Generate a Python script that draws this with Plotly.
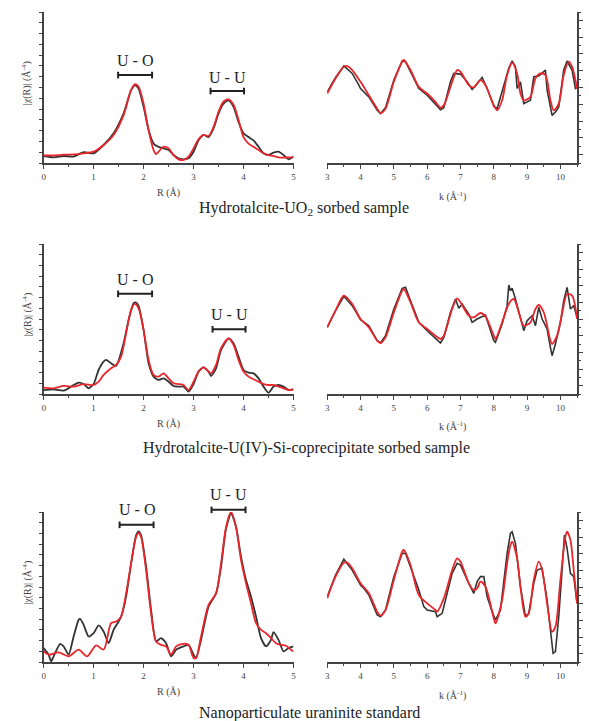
import plotly.graph_objects as go

# ---------------- DATA ----------------
# Panel 1 : Hydrotalcite-UO2 sorbed sample
r1_data_x = [0, 0.2, 0.4, 0.6, 0.8, 1.0, 1.2, 1.4, 1.6, 1.75, 1.83, 1.9, 2.0, 2.1, 2.2, 2.3, 2.4, 2.5, 2.6, 2.7, 2.8, 2.9, 3.0, 3.1, 3.2, 3.3, 3.4, 3.5, 3.6, 3.7, 3.8, 3.9, 4.0, 4.1, 4.2, 4.3, 4.4, 4.5, 4.6, 4.7, 4.8, 4.9, 5.0]
r1_data_y = [0.65, 0.52, 0.65, 0.6, 1.0, 0.9, 1.67, 2.75, 4.6, 6.76, 7.2, 6.9, 5.2, 3.05, 1.8, 1.5, 1.36, 1.2, 0.74, 0.43, 0.34, 0.43, 1.05, 2.1, 2.6, 2.4, 3.2, 4.6, 5.5, 5.8, 5.2, 3.8, 2.75, 2.4, 2.1, 1.5, 0.9, 0.74, 0.96, 1.05, 0.74, 0.34, 0.6]
r1_fit_x = [0, 0.2, 0.4, 0.6, 0.8, 1.0, 1.2, 1.4, 1.6, 1.75, 1.83, 1.9, 2.0, 2.1, 2.2, 2.25, 2.3, 2.4, 2.5, 2.6, 2.7, 2.8, 2.9, 3.0, 3.1, 3.2, 3.3, 3.4, 3.5, 3.6, 3.7, 3.8, 3.9, 4.0, 4.1, 4.2, 4.3, 4.4, 4.5, 4.6, 4.7, 4.8, 4.9, 5.0]
r1_fit_y = [0.7, 0.7, 0.77, 0.8, 0.9, 1.05, 1.67, 2.6, 4.44, 6.76, 7.3, 7.07, 5.5, 3.05, 1.2, 0.83, 1.05, 1.5, 1.36, 0.74, 0.34, 0.28, 0.6, 1.36, 2.2, 2.6, 2.5, 3.36, 4.75, 5.7, 5.9, 5.4, 4.0, 2.4, 1.8, 1.5, 1.2, 0.9, 0.74, 0.65, 0.52, 0.5, 0.52, 0.52]
k1_data_x = [3.0, 3.25, 3.5, 3.75, 3.95, 4.0, 4.25, 4.5, 4.6, 4.75, 5.0, 5.25, 5.35, 5.5, 5.75, 6.0, 6.25, 6.4, 6.5, 6.7, 6.8, 7.0, 7.2, 7.35, 7.5, 7.65, 7.8, 8.0, 8.1, 8.3, 8.45, 8.55, 8.65, 8.7, 8.8, 8.9, 9.1, 9.2, 9.35, 9.55, 9.6, 9.75, 9.85, 9.95, 10.1, 10.2, 10.35, 10.45, 10.5]
k1_data_y = [-0.26, 0.6, 1.28, 0.84, 0.14, -0.06, -0.56, -1.36, -1.56, -1.2, 0.44, 1.58, 1.54, 0.94, -0.06, -0.46, -0.96, -1.32, -1.2, 0.34, 0.84, 0.8, 0.34, -0.12, 0.24, 0.6, -0.06, -1.12, -1.26, 0.04, 1.14, 1.58, 1.24, -0.06, 0.34, -0.96, -0.76, 0.64, 0.68, 1.04, -0.16, -1.66, -1.46, -1.16, 1.04, 1.58, 1.04, -0.06, 0.0]
k1_fit_x = [3.0, 3.25, 3.5, 3.6, 3.75, 4.0, 4.25, 4.5, 4.6, 4.75, 5.0, 5.25, 5.3, 5.5, 5.75, 6.0, 6.25, 6.4, 6.5, 6.75, 6.9, 7.0, 7.25, 7.4, 7.6, 7.75, 8.0, 8.1, 8.25, 8.4, 8.55, 8.7, 8.8, 8.9, 9.1, 9.25, 9.4, 9.55, 9.7, 9.8, 9.95, 10.1, 10.25, 10.35, 10.5]
k1_fit_y = [-0.36, 0.54, 1.24, 1.28, 1.04, 0.34, -0.46, -1.26, -1.52, -1.26, 0.34, 1.54, 1.64, 1.04, 0.04, -0.36, -0.86, -1.2, -1.06, 0.34, 1.04, 0.94, 0.14, 0.0, 0.44, 0.14, -1.06, -1.36, -0.76, 0.74, 1.48, 0.84, -0.36, -0.76, -0.56, 0.54, 0.84, 0.74, -0.76, -1.36, -0.96, 0.74, 1.54, 1.24, -0.06]

# Panel 2 : Hydrotalcite-U(IV)-Si-coprecipitate sorbed sample
r2_data_x = [0, 0.2, 0.4, 0.6, 0.7, 0.8, 0.9, 1.0, 1.1, 1.2, 1.25, 1.35, 1.45, 1.6, 1.7, 1.8, 1.85, 1.9, 2.0, 2.1, 2.2, 2.3, 2.4, 2.5, 2.6, 2.7, 2.8, 2.9, 3.0, 3.1, 3.2, 3.3, 3.35, 3.45, 3.55, 3.7, 3.8, 3.9, 4.0, 4.1, 4.2, 4.3, 4.4, 4.5, 4.6, 4.7, 4.8, 4.9, 5.0]
r2_data_y = [0.37, 0.44, 0.31, 0.84, 1.06, 0.93, 0.53, 0.93, 2.24, 3.02, 3.18, 2.87, 2.62, 4.73, 6.92, 8.47, 8.54, 8.22, 5.98, 2.87, 1.62, 1.31, 1.46, 1.15, 0.75, 0.69, 0.69, 0.22, 0.93, 2.09, 2.49, 2.09, 1.68, 2.4, 4.11, 5.2, 4.73, 3.49, 2.24, 1.99, 1.93, 1.46, 0.69, 0.12, 0.69, 0.84, 0.69, 0.37, 0.44]
r2_fit_x = [0, 0.2, 0.4, 0.6, 0.8, 1.0, 1.1, 1.2, 1.35, 1.45, 1.55, 1.65, 1.75, 1.82, 1.9, 2.0, 2.1, 2.2, 2.3, 2.4, 2.5, 2.6, 2.7, 2.8, 2.9, 3.0, 3.1, 3.2, 3.3, 3.35, 3.45, 3.55, 3.7, 3.8, 3.9, 4.0, 4.1, 4.2, 4.3, 4.4, 4.5, 4.6, 4.7, 4.8, 4.9, 5.0]
r2_fit_y = [0.59, 0.53, 0.75, 0.69, 0.93, 0.84, 1.15, 1.78, 2.4, 2.71, 3.49, 5.67, 7.85, 8.41, 8.0, 5.98, 3.18, 1.78, 1.62, 1.93, 1.46, 1.0, 0.93, 0.84, 0.37, 1.15, 2.09, 2.49, 2.09, 1.93, 2.71, 4.27, 5.2, 4.58, 3.18, 2.09, 1.62, 1.37, 1.15, 0.93, 0.84, 0.84, 0.69, 0.53, 0.37, 0.44]
k2_data_x = [3.0, 3.25, 3.5, 3.75, 4.0, 4.25, 4.5, 4.6, 4.75, 5.0, 5.25, 5.35, 5.5, 5.75, 6.0, 6.25, 6.4, 6.5, 6.7, 6.85, 6.95, 7.05, 7.25, 7.35, 7.5, 7.75, 8.0, 8.05, 8.25, 8.4, 8.45, 8.5, 8.55, 8.65, 8.75, 8.9, 9.0, 9.15, 9.25, 9.35, 9.45, 9.6, 9.7, 9.75, 9.85, 10.0, 10.1, 10.2, 10.3, 10.4, 10.5]
k2_data_y = [-0.5, 0.5, 1.36, 0.8, -0.04, -0.4, -1.3, -1.44, -1.0, 0.6, 1.84, 1.9, 1.1, -0.2, -0.7, -1.2, -1.44, -1.1, 0.4, 1.2, 0.64, 0.9, 0.3, -0.2, 0.0, 0.24, -1.3, -1.4, -0.3, 0.8, 2.04, 1.7, 1.84, 1.2, 0.5, -0.7, -0.1, 0.2, -0.4, 0.7, 0.0, -0.6, -1.7, -2.2, -1.5, -0.2, 1.1, 1.9, 0.6, 0.8, 0.1]
k2_fit_x = [3.0, 3.25, 3.5, 3.75, 4.0, 4.25, 4.5, 4.6, 4.75, 5.0, 5.25, 5.3, 5.5, 5.75, 6.0, 6.25, 6.4, 6.5, 6.75, 6.9, 7.0, 7.25, 7.4, 7.6, 7.75, 8.0, 8.05, 8.25, 8.45, 8.6, 8.75, 8.9, 9.1, 9.25, 9.35, 9.5, 9.7, 9.75, 9.9, 10.05, 10.2, 10.35, 10.5]
k2_fit_y = [-0.5, 0.5, 1.4, 0.9, 0.0, -0.5, -1.3, -1.44, -1.1, 0.4, 1.7, 1.8, 1.0, -0.2, -0.6, -1.0, -1.2, -1.0, 0.6, 1.24, 1.0, 0.2, 0.1, 0.36, 0.16, -1.0, -1.2, -0.2, 0.9, 1.2, 0.4, -0.4, -0.2, 0.6, 0.84, 0.4, -1.3, -1.5, -1.0, 0.3, 1.5, 1.4, 0.0]

# Panel 3 : Nanoparticulate uraninite standard
r3_data_x = [0, 0.1, 0.15, 0.2, 0.33, 0.4, 0.5, 0.6, 0.7, 0.73, 0.8, 0.9, 1.0, 1.1, 1.2, 1.3, 1.4, 1.5, 1.55, 1.65, 1.75, 1.85, 1.9, 1.95, 2.05, 2.15, 2.25, 2.35, 2.45, 2.55, 2.65, 2.8, 2.9, 3.0, 3.05, 3.15, 3.3, 3.45, 3.55, 3.65, 3.75, 3.85, 3.95, 4.05, 4.15, 4.25, 4.35, 4.45, 4.55, 4.6, 4.7, 4.8, 4.9, 5.0]
r3_data_y = [1.3, 0.68, 0.06, 0.53, 1.7, 1.46, 0.68, 2.38, 3.93, 4.02, 3.47, 2.38, 2.69, 3.41, 2.85, 1.76, 3.0, 3.78, 4.24, 6.1, 9.2, 11.83, 12.2, 11.83, 8.9, 4.86, 1.92, 2.23, 1.76, 0.53, 1.15, 1.46, 1.6, 0.68, 0.37, 2.07, 5.17, 6.4, 8.9, 12.45, 13.9, 12.6, 9.81, 7.65, 6.1, 4.24, 2.23, 1.46, 2.07, 2.79, 2.07, 0.99, 1.3, 1.46]
r3_fit_x = [0, 0.1, 0.3, 0.5, 0.7, 0.87, 1.05, 1.2, 1.35, 1.45, 1.55, 1.65, 1.75, 1.85, 1.9, 1.95, 2.05, 2.15, 2.25, 2.35, 2.45, 2.55, 2.65, 2.8, 2.9, 3.0, 3.05, 3.15, 3.3, 3.45, 3.55, 3.65, 3.75, 3.85, 3.95, 4.05, 4.15, 4.25, 4.35, 4.45, 4.55, 4.65, 4.75, 4.85, 4.95, 5.0]
r3_fit_y = [0.99, 0.68, 0.9, 0.53, 1.15, 0.53, 1.55, 1.15, 3.62, 3.78, 4.24, 6.4, 9.2, 11.67, 12.04, 11.67, 8.58, 4.55, 1.92, 1.6, 1.46, 0.68, 1.46, 1.7, 1.6, 0.37, 0.37, 2.38, 5.33, 6.4, 9.2, 12.6, 14.0, 12.6, 9.5, 7.34, 5.48, 3.62, 3.0, 2.69, 2.23, 1.76, 1.6, 1.52, 1.15, 0.99]
k3_data_x = [3.0, 3.25, 3.5, 3.75, 4.0, 4.1, 4.25, 4.5, 4.6, 4.75, 5.0, 5.25, 5.35, 5.5, 5.75, 5.9, 6.0, 6.25, 6.3, 6.45, 6.75, 6.9, 7.0, 7.25, 7.4, 7.5, 7.6, 7.7, 7.8, 7.95, 8.05, 8.2, 8.4, 8.5, 8.55, 8.65, 8.8, 8.95, 9.05, 9.2, 9.3, 9.45, 9.6, 9.7, 9.78, 9.85, 9.95, 10.05, 10.12, 10.2, 10.3, 10.4, 10.5]
k3_data_y = [-0.58, 0.72, 1.66, 1.02, 0.12, -0.08, -0.48, -1.68, -1.78, -1.38, 0.62, 2.02, 2.02, 1.22, -0.18, -1.18, -1.38, -1.48, -1.78, -1.58, 0.82, 1.42, 1.32, 0.22, -0.38, 0.32, 0.62, 0.62, -0.58, -1.48, -1.98, -1.38, 2.02, 3.22, 3.32, 2.62, 0.02, -1.78, -1.58, 0.22, 1.02, 1.12, -0.78, -2.58, -3.98, -3.88, -1.78, 1.02, 3.12, 2.32, 0.82, 0.62, -0.98]
k3_fit_x = [3.0, 3.25, 3.5, 3.6, 3.75, 4.0, 4.25, 4.5, 4.6, 4.75, 5.0, 5.25, 5.3, 5.5, 5.75, 6.0, 6.25, 6.3, 6.5, 6.75, 6.9, 7.0, 7.25, 7.4, 7.5, 7.6, 7.75, 8.0, 8.05, 8.25, 8.4, 8.5, 8.55, 8.7, 8.8, 8.95, 9.05, 9.2, 9.35, 9.45, 9.6, 9.75, 9.85, 10.0, 10.15, 10.2, 10.3, 10.4, 10.5]
k3_fit_y = [-0.68, 0.62, 1.46, 1.46, 1.12, 0.22, -0.38, -1.48, -1.72, -1.38, 0.42, 2.12, 2.22, 1.32, -0.48, -0.98, -1.38, -1.48, -0.68, 1.02, 1.72, 1.52, 0.22, -0.18, -0.08, 0.32, 0.02, -1.88, -2.18, -0.78, 1.42, 2.52, 2.72, 1.72, 0.02, -1.78, -1.58, 0.42, 1.52, 1.02, -0.98, -2.68, -2.38, 0.42, 3.02, 3.32, 2.82, 1.02, -0.98]

subtitles = ["Hydrotalcite-UO<sub>2</sub> sorbed sample",
             "Hydrotalcite-U(IV)-Si-coprecipitate sorbed sample",
             "Nanoparticulate uraninite standard"]
# bracket annotations: (label, R_start, R_end, bracket level, label level)
brackets = [
    [("U - O", 1.49, 2.17, 8.15, 9.5), ("U - U", 3.34, 4.01, 6.67, 7.9)],
    [("U - O", 1.49, 2.17, 9.35, 10.7), ("U - U", 3.38, 4.04, 6.04, 7.38)],
    [("U - O", 1.52, 2.20, 12.8, 14.2), ("U - U", 3.36, 4.04, 14.2, 15.6)],
]

R_RANGE = [0, 5]
K_RANGE = [3, 10.5]
R_YRANGE = [0, 14]
K_YRANGE = [-4.5, 4.5]

# ---------------- LAYOUT GEOMETRY ----------------
W, H = 589, 721
left_dom = [42 / W, 294 / W]
right_dom = [328 / W, 580 / W]
rows_px = [(12, 163), (244, 394), (512, 662)]  # top, bottom in pixels
sub_y_px = [208, 448, 713]
sub_x_px = [305, 307, 310]

BLACK = "#333333"
RED = "#e8262b"
AXC = "#444444"
FONT = "Liberation Serif"


def axname(n):
    return "" if n == 1 else str(n)


fig = go.Figure()

panels = [
    (r1_data_x, r1_data_y, r1_fit_x, r1_fit_y, k1_data_x, k1_data_y, k1_fit_x, k1_fit_y),
    (r2_data_x, r2_data_y, r2_fit_x, r2_fit_y, k2_data_x, k2_data_y, k2_fit_x, k2_fit_y),
    (r3_data_x, r3_data_y, r3_fit_x, r3_fit_y, k3_data_x, k3_data_y, k3_fit_x, k3_fit_y),
]

layout = dict(width=W, height=H, margin=dict(l=0, r=0, t=0, b=0),
              paper_bgcolor="white", plot_bgcolor="white", showlegend=False,
              font=dict(family=FONT, color="#222"))
annotations = []
shapes = []

for i, (rdx, rdy, rfx, rfy, kdx, kdy, kfx, kfy) in enumerate(panels):
    top, bot = rows_px[i]
    ydom = [1 - bot / H, 1 - top / H]
    nl = axname(2 * i + 1)
    nr = axname(2 * i + 2)
    xl, yl = "x" + nl, "y" + nl
    xr, yr = "x" + nr, "y" + nr

    fig.add_trace(go.Scatter(x=rdx, y=rdy, xaxis=xl, yaxis=yl, mode="lines",
                             line=dict(color=BLACK, width=1.8, shape="spline", smoothing=0.6)))
    fig.add_trace(go.Scatter(x=rfx, y=rfy, xaxis=xl, yaxis=yl, mode="lines",
                             line=dict(color=RED, width=1.8, shape="spline", smoothing=0.8)))
    fig.add_trace(go.Scatter(x=kdx, y=kdy, xaxis=xr, yaxis=yr, mode="lines",
                             line=dict(color=BLACK, width=1.6)))
    fig.add_trace(go.Scatter(x=kfx, y=kfy, xaxis=xr, yaxis=yr, mode="lines",
                             line=dict(color=RED, width=1.8, shape="spline", smoothing=0.8)))

    common_x = dict(showgrid=False, zeroline=False, showline=True, linecolor=AXC, linewidth=1.5,
                    ticks="outside", ticklen=4, tickwidth=1, tickcolor=AXC,
                    tickfont=dict(family=FONT, size=9, color="#444"),
                    minor=dict(ticks="outside", ticklen=2, tickcolor=AXC, dtick=0.5))
    layout["xaxis" + nl] = dict(common_x, domain=left_dom, range=R_RANGE, dtick=1, tick0=0,
                                anchor=yl, fixedrange=True)
    layout["xaxis" + nr] = dict(common_x, domain=right_dom, range=K_RANGE, dtick=1, tick0=0,
                                anchor=yr, fixedrange=True)
    layout["yaxis" + nl] = dict(domain=ydom, range=R_YRANGE, showgrid=False, zeroline=False,
                                showline=True, linecolor=AXC, linewidth=1.5, ticks="outside",
                                ticklen=3, tickcolor=AXC, dtick=1, showticklabels=False,
                                anchor=xl, fixedrange=True)
    layout["yaxis" + nr] = dict(domain=ydom, range=K_YRANGE, showgrid=False, zeroline=False,
                                showline=True, linecolor=AXC, linewidth=1.5, ticks="outside",
                                ticklen=4, tickcolor=AXC, dtick=1, tick0=0, showticklabels=False,
                                side="right", anchor=xr, fixedrange=True,
                                minor=dict(ticks="outside", ticklen=2, tickcolor=AXC, dtick=0.5))

    ctr = dict(xanchor="center", yanchor="middle", showarrow=False)
    # axis titles
    annotations.append(dict(ctr, x=(left_dom[0] + left_dom[1]) / 2, y=1 - (bot + 30) / H,
                            xref="paper", yref="paper", text="R (Å)",
                            font=dict(family=FONT, size=10, color="#444")))
    annotations.append(dict(ctr, x=(right_dom[0] + right_dom[1]) / 2, y=1 - (bot + 33) / H,
                            xref="paper", yref="paper", text="k (Å<sup>-1</sup>)",
                            font=dict(family=FONT, size=10, color="#444")))
    annotations.append(dict(ctr, x=25 / W, y=1 - ((top + bot) / 2 - 4) / H, xref="paper", yref="paper",
                            text="|χ(R)| (Å<sup>-4</sup>)", textangle=-90,
                            font=dict(family=FONT, size=10, color="#444")))
    # subtitle
    annotations.append(dict(ctr, x=sub_x_px[i] / W, y=1 - sub_y_px[i] / H, xref="paper", yref="paper",
                            text=subtitles[i],
                            font=dict(family=FONT, size=16, color="#222")))
    # brackets
    for (lab, x0, x1, yb, ylab) in brackets[i]:
        fx0 = (x0 - R_RANGE[0]) / (R_RANGE[1] - R_RANGE[0])
        fx1 = (x1 - R_RANGE[0]) / (R_RANGE[1] - R_RANGE[0])
        fy = (yb - R_YRANGE[0]) / (R_YRANGE[1] - R_YRANGE[0])
        fyl = (ylab - R_YRANGE[0]) / (R_YRANGE[1] - R_YRANGE[0])
        cap = 0.022
        line = dict(color="#222", width=2)
        shapes.append(dict(type="line", xref=f"{xl} domain", yref=f"{yl} domain",
                           x0=fx0, x1=fx1, y0=fy, y1=fy, line=line))
        for fx in (fx0, fx1):
            shapes.append(dict(type="line", xref=f"{xl} domain", yref=f"{yl} domain",
                               x0=fx, x1=fx, y0=fy - cap, y1=fy + cap, line=line))
        annotations.append(dict(ctr, x=(fx0 + fx1) / 2, y=fyl, xref=f"{xl} domain",
                                yref=f"{yl} domain", text=lab,
                                font=dict(family=FONT, size=16, color="#222")))

layout["annotations"] = annotations
layout["shapes"] = shapes
fig.update_layout(**layout)
fig.write_html("out.html", config={"displayModeBar": False},
               post_script="document.body.style.margin='0';document.body.style.overflow='hidden';")
